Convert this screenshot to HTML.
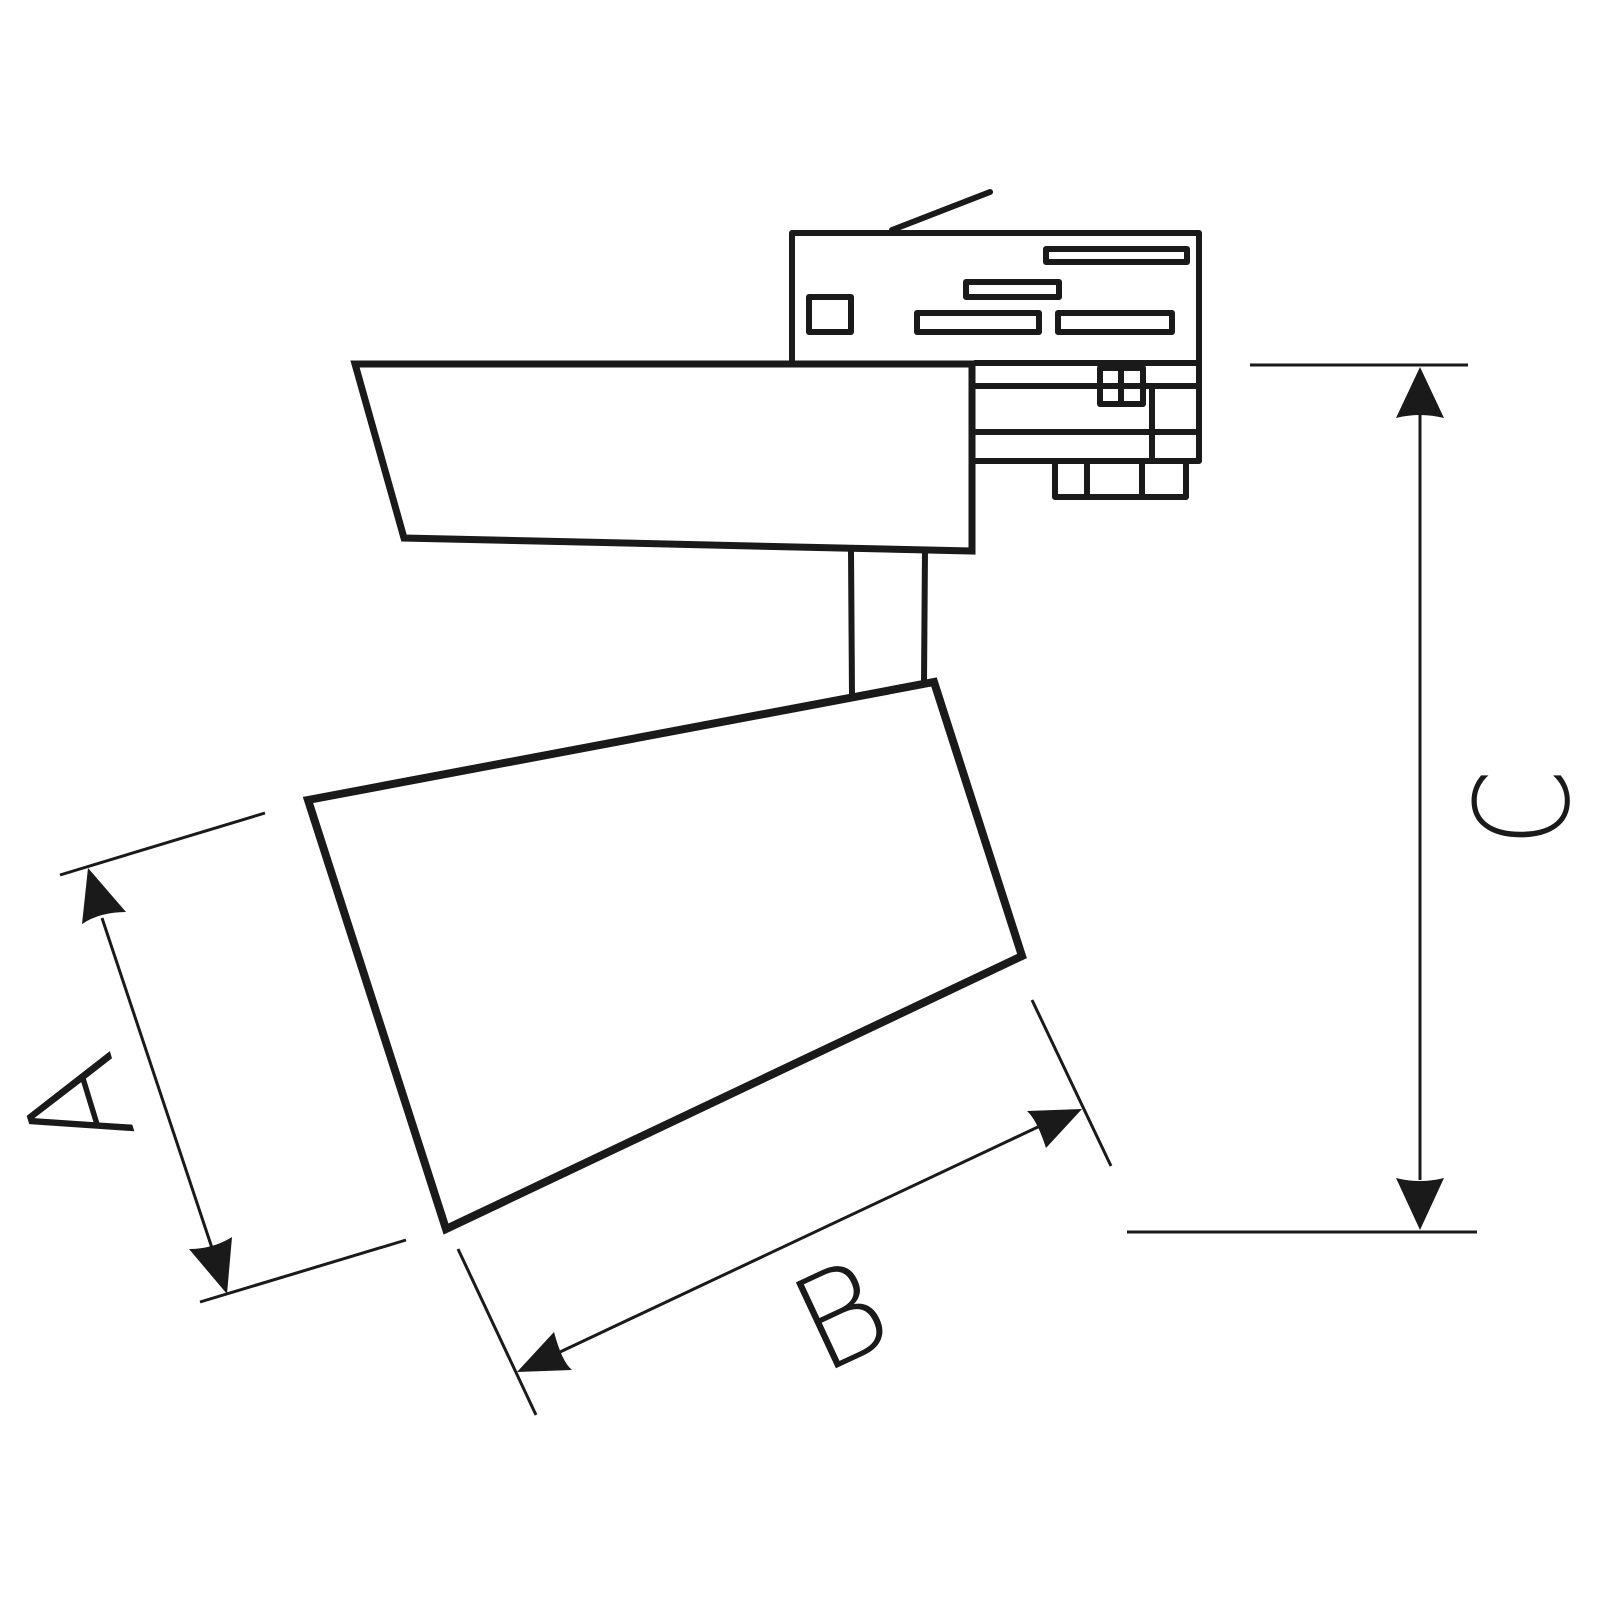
<!DOCTYPE html>
<html><head><meta charset="utf-8"><style>html,body{margin:0;padding:0;background:#fff}svg{display:block}</style></head>
<body>
<svg width="1600" height="1600" viewBox="0 0 1600 1600" xmlns="http://www.w3.org/2000/svg">
<g fill="none" stroke="#1a1a1a" stroke-linejoin="round" stroke-linecap="round">
 <g stroke-width="6">
  <path d="M792 362 V233 H1199 V461 H975"/>
  <line x1="892" y1="230" x2="990" y2="192"/>
  <rect x="1046" y="249" width="141" height="13"/>
  <rect x="966" y="282" width="93" height="15"/>
  <rect x="809" y="297" width="42" height="35"/>
  <rect x="917" y="313" width="122" height="19"/>
  <rect x="1058" y="313" width="114" height="19"/>
  <line x1="975" y1="363" x2="1199" y2="363"/>
  <line x1="975" y1="386" x2="1199" y2="386"/>
  <line x1="975" y1="432" x2="1199" y2="432"/>
  <line x1="1152" y1="388" x2="1152" y2="458"/>
  <rect x="1100" y="368" width="43" height="36"/>
  <line x1="1121" y1="370" x2="1121" y2="402"/>
  <path d="M1055 461 V497 H1186 V461"/>
  <line x1="1087" y1="461" x2="1087" y2="497"/>
  <line x1="1142" y1="461" x2="1142" y2="497"/>
  <line x1="851" y1="550" x2="852" y2="697"/>
  <line x1="925" y1="550" x2="924" y2="682"/>
 </g>
 <path d="M355 364 H972 V551 L404 538 Z" stroke-width="7" stroke-linejoin="miter"/>
 <path d="M308 800 L934 682 L1022 956 L446 1229 Z" stroke-width="8" stroke-linejoin="miter"/>
 <g stroke-width="3" stroke-linecap="butt">
  <line x1="60" y1="875" x2="265" y2="813"/>
  <line x1="200" y1="1302" x2="406" y2="1240"/>
  <line x1="458" y1="1249" x2="536" y2="1415"/>
  <line x1="1032" y1="1000" x2="1111" y2="1166"/>
  <line x1="1250" y1="365" x2="1468" y2="365"/>
  <line x1="1127" y1="1232" x2="1477" y2="1232"/>
  <line x1="102" y1="918" x2="212" y2="1248"/>
  <line x1="560" y1="1352" x2="1040" y2="1126"/>
  <line x1="1420" y1="415" x2="1420" y2="1180"/>
 </g>
</g>
<g fill="#1a1a1a">
 <path d="M88 868 L126 912 Q100 912 82 924 Z"/>
 <path d="M227 1294 L189 1249 Q213 1249 232 1237 Z"/>
 <path d="M517 1372 L572 1370 Q562 1362 554 1332 Z"/>
 <path d="M1082 1109 L1027 1111 Q1037 1120 1046 1148 Z"/>
 <path d="M1420 367 L1444 418 Q1420 412 1396 418 Z"/>
 <path d="M1420 1230 L1444 1178 Q1420 1184 1396 1178 Z"/>
</g>
<g font-family="DejaVu Sans, Liberation Sans, sans-serif" font-weight="200" fill="#1a1a1a">
 <text x="0" y="0" font-size="130" text-anchor="middle" transform="translate(1568 808) rotate(-90) scale(0.85 1)">C</text>
 <text x="0" y="0" font-size="130" text-anchor="middle" transform="translate(860 1357) rotate(-25)">B</text>
 <text x="0" y="0" font-size="135" text-anchor="middle" transform="translate(122 1091) rotate(-107)">A</text>
</g>
</svg>
</body></html>
